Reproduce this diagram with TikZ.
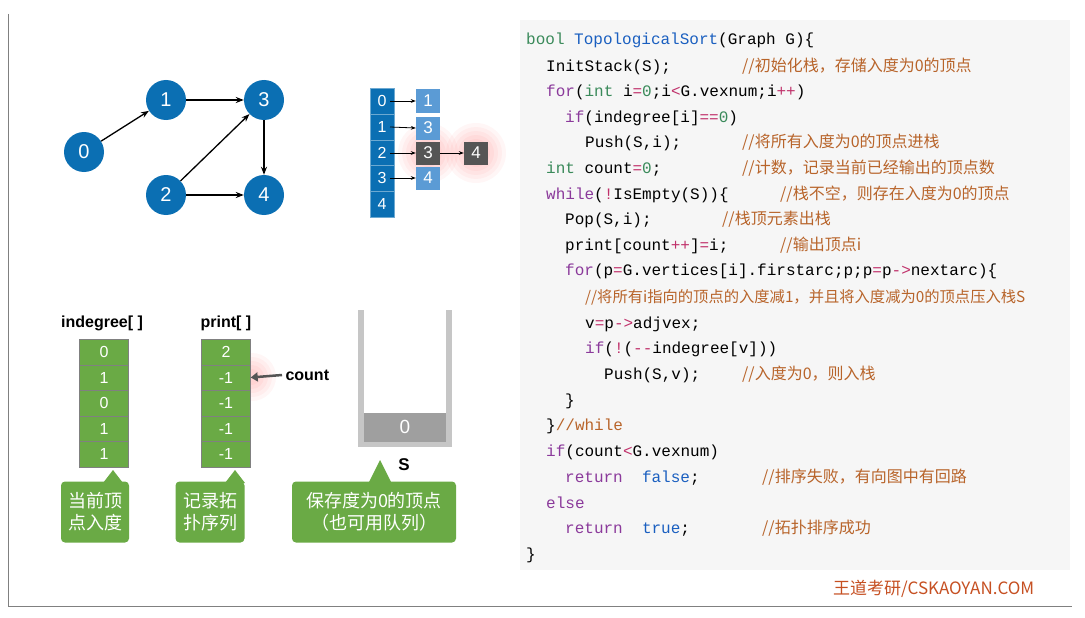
\documentclass[tikz,border=0pt]{standalone}
\usepackage{fontspec}
\setmainfont{Liberation Sans}
\setmonofont{Liberation Mono}
\newfontfamily\cjk{Noto Sans CJK SC}
\usetikzlibrary{arrows.meta}
\definecolor{gblue}{HTML}{0B6FB3}
\definecolor{lblue}{HTML}{5B9BD5}
\definecolor{dgray}{HTML}{555555}
\definecolor{ggreen}{HTML}{6AAA45}
\definecolor{kwc}{HTML}{8B3A9B}
\definecolor{tyc}{HTML}{3A8A5A}
\definecolor{fnc}{HTML}{1A5FC0}
\definecolor{opc}{HTML}{C0306A}
\definecolor{cmc}{HTML}{B8642A}
\definecolor{codebg}{HTML}{F6F6F6}
\newcommand\Kw[1]{\textcolor{kwc}{#1}}
\newcommand\Ty[1]{\textcolor{tyc}{#1}}
\newcommand\Fn[1]{\textcolor{fnc}{#1}}
\newcommand\Op[1]{\textcolor{opc}{#1}}
\newcommand\Nu[1]{\textcolor{tyc}{#1}}
\tikzset{
  vert/.style={circle,fill=gblue,text=white,minimum size=40pt,inner sep=0pt,font=\fontsize{20}{20}\selectfont},
  edge/.style={-{Stealth[length=8pt]},line width=1.3pt},
  cell/.style={draw=gblue!60!white,fill=gblue,text=white,minimum width=24pt,minimum height=25.5pt,inner sep=0pt,font=\fontsize{16}{16}\selectfont},
  lcell/.style={fill=lblue,text=white,minimum width=24pt,minimum height=23pt,inner sep=0pt,font=\fontsize{17}{17}\selectfont},
  dcell/.style={lcell,fill=dgray},
  ptr/.style={-{Stealth[length=5pt]},line width=0.8pt},
  gcell/.style={draw=gray,fill=ggreen,text=white,minimum width=49pt,minimum height=25.5pt,inner sep=0pt,font=\fontsize{16}{16}\selectfont},
  lbl/.style={font=\bfseries\fontsize{16}{16}\selectfont},
  callout/.style={fill=ggreen,rounded corners=4pt,text=white,align=center,font=\cjk\fontsize{18}{22}\selectfont},
  code/.style={anchor=base west,inner sep=0pt,font=\ttfamily\fontsize{16}{16}\selectfont},
  cmt/.style={anchor=base west,inner sep=0pt,text=cmc,font=\cjk\fontsize{16}{16}\selectfont},
  glow/.style={fill=red,opacity=0.035},
}
\begin{document}
\begin{tikzpicture}[x=1pt,y=-1pt]
\useasboundingbox (0,0) rectangle (1085,618);
\fill[white] (0,0) rectangle (1085,618);
\draw[gray,line width=0.8pt] (8,14) -- (8,606) -- (1072,606);
\fill[codebg] (520,20) rectangle (1070,570);
% graph
\node[vert] (n0) at (84,152) {0};
\node[vert] (n1) at (166,100) {1};
\node[vert] (n3) at (264,100) {3};
\node[vert] (n2) at (166,195) {2};
\node[vert] (n4) at (264,195) {4};
\draw[edge] (n0) -- (n1);
\draw[edge] (n1) -- (n3);
\draw[edge] (n2) -- (n3);
\draw[edge] (n2) -- (n4);
\draw[edge] (n3) -- (n4);
% adjacency list
\foreach \i/\y in {0/101,1/127,2/153,3/178,4/204}{
  \node[cell] (a\i) at (382,\y) {\i};
}
\foreach \r in {10,14,18,22,26,30}{
  \fill[glow] (428,153) circle (\r pt);
  \fill[glow] (476,153) circle (\r pt);
}
\node[lcell] (b0) at (428,101) {1};
\node[lcell] (b1) at (428,128) {3};
\node[dcell] (b2) at (428,153) {3};
\node[dcell] (c2) at (476,153) {4};
\node[lcell] (b3) at (428,178) {4};
\foreach \i in {0,1,2,3}{ \draw[ptr] (a\i.center) ++(8,0) -- (b\i.west); }
\draw[ptr] (b2) -- (c2);
% indegree
\node[lbl] (indl) at (102,323) {indegree[ ]};
\foreach \v [count=\k from 0] in {0,1,0,1,1}{
  \node[gcell] (d\k) at (104,{352+25.5*\k}) {\v};
}
\node[lbl] (prl) at (226,323) {print[ ]};
\foreach \r in {8,12,16,20,24}{ \fill[glow] (252,377) circle (\r pt); }
\foreach \v [count=\k from 0] in {2,-1,-1,-1,-1}{
  \node[gcell] (p\k) at (226,{352+25.5*\k}) {\v};
}
\node[lbl,anchor=west] (cnt) at (282,375) {count};
\draw[-{Triangle[length=7pt,width=9pt]},line width=2.5pt,dgray] (cnt.west) -- (p1.east);
% stack
\fill[gray!45] (358,310) rectangle (364,447);
\fill[gray!45] (446,310) rectangle (452,447);
\fill[gray!45] (358,441) rectangle (452,447);
\node[fill=gray!75,text=white,minimum width=82pt,minimum height=29pt,inner sep=0pt,font=\fontsize{19}{19}\selectfont] (s0) at (405,427) {0};
\node[lbl,font=\bfseries\fontsize{17}{17}\selectfont] (sl) at (404,465) {S};
% callouts
\node[callout,minimum width=68pt,minimum height=61pt] (k1) at (95,512) {当前顶\\点入度};
\fill[ggreen] (103,483) -- (113,470) -- (123,483) -- cycle;
\node[callout,minimum width=69pt,minimum height=61pt] (k2) at (210,512) {记录拓\\扑序列};
\fill[ggreen] (225,483) -- (235,470) -- (245,483) -- cycle;
\node[callout,minimum width=164pt,minimum height=61pt] (k3) at (374,512) {保存度为0的顶点\\（也可用队列）};
\fill[ggreen] (368,484) -- (380,460) -- (392,484) -- cycle;
% code
\node[code] (l1) at (526,45) {\Ty{bool} \Fn{TopologicalSort}(Graph G)\{};
\node[code] (l2) at (546,71) {InitStack(S);};
\node[cmt] (c2t) at (742,71) {//初始化栈，存储入度为0的顶点};
\node[code] (l3) at (546,96) {\Kw{for}(\Ty{int} i\Op{=}\Nu{0};i\Op{<}G.vexnum;i\Op{++})};
\node[code] (l4) at (565,122) {\Kw{if}(indegree[i]\Op{==}\Nu{0})};
\node[code] (l5) at (585,147) {Push(S,i);};
\node[cmt] (c5t) at (742,147) {//将所有入度为0的顶点进栈};
\node[code] (l6) at (546,173) {\Ty{int} count\Op{=}\Nu{0};};
\node[cmt] (c6t) at (742,173) {//计数，记录当前已经输出的顶点数};
\node[code] (l7) at (546,199) {\Kw{while}(\Op{!}IsEmpty(S))\{};
\node[cmt] (c7t) at (780,199) {//栈不空，则存在入度为0的顶点};
\node[code] (l8) at (565,224) {Pop(S,i);};
\node[cmt] (c8t) at (722,224) {//栈顶元素出栈};
\node[code] (l9) at (565,250) {print[count\Op{++}]\Op{=}i;};
\node[cmt] (c9t) at (780,250) {//输出顶点i};
\node[code] (l10) at (565,275) {\Kw{for}(p\Op{=}G.vertices[i].firstarc;p;p\Op{=}p\Op{->}nextarc)\{};
\node[cmt,font=\cjk\fontsize{15.3}{15.3}\selectfont] (c11t) at (585,302) {//将所有i指向的顶点的入度减1，并且将入度减为0的顶点压入栈S};
\node[code] (l12) at (585,328) {v\Op{=}p\Op{->}adjvex;};
\node[code] (l13) at (585,353) {\Kw{if}(\Op{!}(\Op{--}indegree[v]))};
\node[code] (l14) at (604,379) {Push(S,v);};
\node[cmt] (c14t) at (742,379) {//入度为0，则入栈};
\node[code] (l15) at (565,405) {\}};
\node[code] (l16) at (546,430) {\}\textcolor{cmc}{//while}};
\node[code] (l17) at (546,456) {\Kw{if}(count\Op{<}G.vexnum)};
\node[code] (l18) at (565,482) {\Kw{return}\ \ \Fn{false};};
\node[cmt] (c18t) at (762,482) {//排序失败，有向图中有回路};
\node[code] (l19) at (546,508) {\Kw{else}};
\node[code] (l20) at (565,533) {\Kw{return}\ \ \Fn{true};};
\node[cmt] (c20t) at (762,533) {//拓扑排序成功};
\node[code] (l21) at (526,559) {\}};
\node[anchor=base west,inner sep=0pt,text=cmc!80!red,font=\cjk\fontsize{17}{17}\selectfont] (ft) at (833,594) {王道考研/CSKAOYAN.COM};
\end{tikzpicture}
\end{document}
